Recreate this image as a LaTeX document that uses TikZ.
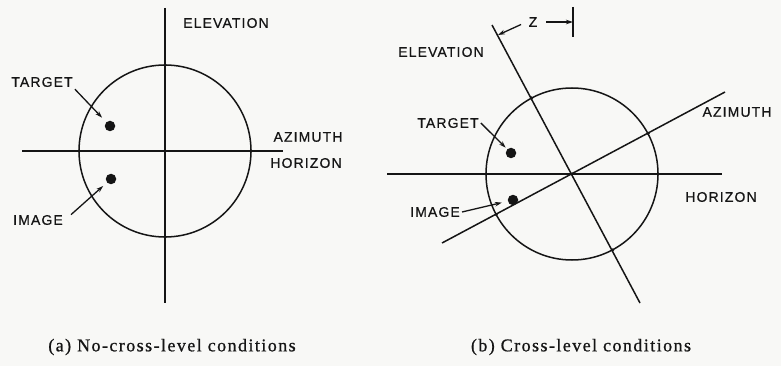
\documentclass[tikz,border=0pt]{standalone}
\usepackage{fontspec}
\setmainfont{Liberation Serif}
\newfontfamily\lblfont[LetterSpace=8,FakeBold=0.6]{Liberation Sans}
\newfontfamily\capfont[LetterSpace=8,FakeBold=0.8]{Liberation Serif}
\usetikzlibrary{arrows.meta,positioning}
\definecolor{paper}{HTML}{F8F8F6}
\definecolor{ink}{HTML}{151515}

\begin{document}
\begin{tikzpicture}[x=1pt,y=-1pt,
  axis/.style={draw=ink, line width=1.5pt},
  lbl/.style={font=\lblfont\fontsize{14}{14}\selectfont, text=ink, inner sep=2pt},
  legend/.style={font=\capfont\fontsize{18}{18}\selectfont, text=ink},
  spot/.style={circle, fill=ink, minimum size=10.5pt, inner sep=0pt},
  knot/.style={circle, fill=ink, minimum size=3.5pt, inner sep=0pt},
  ptr/.style={draw=ink, line width=1.3pt, -{Stealth[length=7pt,width=4.5pt]}}]
\fill[paper] (0,0) rectangle (781,366);
\useasboundingbox (0,0) rectangle (781,366);

% (a) no cross-level
\coordinate (ctrA) at (165,151);
\draw[axis] (ctrA) circle[radius=86pt];
\draw[axis] (165,8) -- (165,303);
\draw[axis] (22,151) -- (283,151);
\foreach \p in {(165,65),(165,237),(79,151),(251,151),(165,151)}
  \node[knot] at \p {};
\node[lbl] (elevA) at (226,23) {ELEVATION};
\node[lbl] (azimA) at (308,137) {AZIMUTH};
\node[lbl] (horzA) at (306,163) {HORIZON};
\node[lbl] (tgtA) at (42,82) {TARGET};
\node[lbl] (imgA) at (38,220) {IMAGE};
\node[spot] (tdotA) at (110,126) {};
\node[spot] (idotA) at (111,179) {};
\draw[ptr, shorten >=6pt] (tgtA.south east) -- (tdotA);
\draw[ptr, shorten <=8pt, shorten >=5pt] (imgA.east) -- (idotA);

% (b) cross-level
\coordinate (ctrB) at (572,174);
\draw[axis] (ctrB) circle[radius=86pt];
\draw[axis] (387,174) -- (722,174);
\draw[axis] (492,25) -- (640,303);
\draw[axis] (442,243) -- (725,92);
\foreach \p in {(486,174),(658,174),(531.5,98),(612.5,250),(648,133.5),(496,214.5),(572,174)}
  \node[knot] at \p {};
\node[lbl] (elevB) at (441,52) {ELEVATION};
\node[lbl] (azimB) at (737,112) {AZIMUTH};
\node[lbl] (horzB) at (721,197) {HORIZON};
\node[lbl] (tgtB) at (448,123) {TARGET};
\node[lbl] (imgB) at (435,212) {IMAGE};
\node[spot] (tdotB) at (511,153) {};
\node[spot] (idotB) at (513,200) {};
\draw[ptr, shorten >=2pt] (tgtB.east) -- (tdotB);
\draw[ptr, shorten >=6pt] (imgB.east) -- (idotB);

% z offset
\node[lbl] (zlbl) at (533,22) {Z};
\coordinate (zfoot) at (498,35);
\coordinate (ztop) at (573,7);
\coordinate (zbot) at (573,37);
\draw[axis] (ztop) -- (zbot);
\draw[ptr, shorten <=6pt] (zlbl.west) -- (zfoot);
\draw[ptr, shorten <=7pt] (zlbl.east) -- (zlbl.east -| zbot);

% captions
\node[legend] (capA) at (172,347) {(a) No-cross-level conditions};
\node[legend] (capB) at (581,347) {(b) Cross-level conditions};
\end{tikzpicture}
\end{document}
